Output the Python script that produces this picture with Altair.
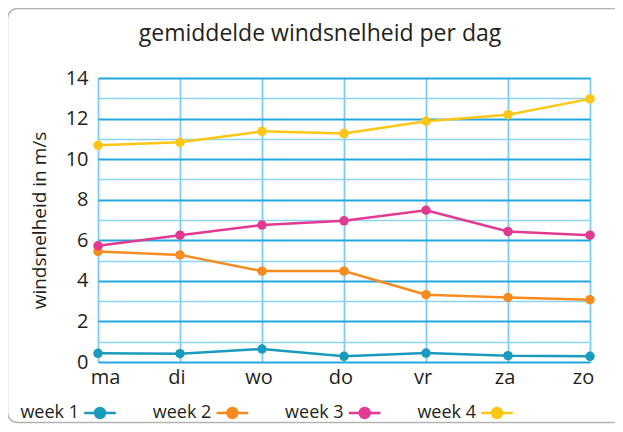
import altair as alt
import pandas as pd

days = ["ma", "di", "wo", "do", "vr", "za", "zo"]
weeks = ["week 1", "week 2", "week 3", "week 4"]
week1 = [0.43, 0.41, 0.64, 0.28, 0.44, 0.31, 0.28]
week2 = [5.45, 5.28, 4.48, 4.48, 3.32, 3.18, 3.07]
week3 = [5.73, 6.25, 6.75, 6.96, 7.48, 6.43, 6.25]
week4 = [10.68, 10.83, 11.37, 11.26, 11.87, 12.19, 12.97]
colors = ["#1a9bbd", "#f68b1f", "#e23a92", "#fec614"]
y_ticks = list(range(0, 15))
title_text = ["gemiddelde windsnelheid per dag"]

rows = []
for w, vals in zip(weeks, [week1, week2, week3, week4]):
    for d, v in zip(days, vals):
        rows.append({"week": w, "dag": d, "v": v})
df = pd.DataFrame(rows)
legend_df = pd.DataFrame({"week": weeks})

FONT = "Open Sans"
TXT = "#231f20"
DARK = "#22a7df"
LIGHT = "#8dd3f1"

color_scale = alt.Scale(domain=weeks, range=colors)

label_offset = {
    "condition": [
        {"test": "datum.value == 'ma'", "value": 7},
        {"test": "datum.value == 'zo'", "value": -7},
    ],
    "value": -3.5,
}

lines = alt.Chart(df).mark_line(
    strokeWidth=2.5,
    point=alt.OverlayMarkDef(filled=True, size=90, opacity=1),
).encode(
    x=alt.X(
        "dag:N", sort=days, scale=alt.Scale(type="point", padding=0),
        axis=alt.Axis(
            title=None, labelAngle=0, labelFontSize=20, labelFont=FONT,
            labelColor=TXT, labelPadding=5, ticks=False, domain=False,
            grid=True, gridColor="#7ecdee", gridWidth=1.8,
            labelOffset=label_offset,
        ),
    ),
    y=alt.Y(
        "v:Q", scale=alt.Scale(domain=[0, 14], nice=False),
        axis=alt.Axis(
            values=y_ticks,
            labelExpr="datum.value % 2 == 0 ? datum.label : ''",
            labelFontSize=20, labelFont=FONT, labelColor=TXT, labelPadding=10,
            labelOverlap=False, ticks=False, domain=False,
            gridColor=alt.condition("datum.value % 2 == 0", alt.value(DARK), alt.value(LIGHT)),
            gridWidth=alt.condition("datum.value % 2 == 0", alt.value(2), alt.value(1.5)),
            title="windsnelheid in m/s", titleFontSize=19, titleFont=FONT,
            titleColor=TXT, titleFontWeight="normal", titlePadding=16,
        ),
    ),
    color=alt.Color("week:N", scale=color_scale, legend=None),
)

leg_x = alt.X("week:N", sort=weeks,
              scale=alt.Scale(type="point", domain=weeks, range=[2, 399], padding=0),
              axis=None)

leg_text = alt.Chart(legend_df).mark_text(
    align="right", baseline="middle", dx=-21, fontSize=18, font=FONT, color=TXT
).encode(x=leg_x, y=alt.value(335), text="week:N")

sym_path = ("M-1,0L1,0M-0.315,0A0.315,0.315 0 1,1 0.315,0"
            "A0.315,0.315 0 1,1 -0.315,0Z")
leg_sym = alt.Chart(legend_df).mark_point(
    shape=sym_path, size=1000, filled=True, strokeWidth=2.5, opacity=1
).encode(
    x=leg_x, y=alt.value(335),
    color=alt.Color("week:N", scale=color_scale, legend=None),
    stroke=alt.Stroke("week:N", scale=color_scale, legend=None),
)

title = alt.Chart(pd.DataFrame({"t": title_text})).mark_text(
    align="center", baseline="alphabetic", fontSize=23, font=FONT, color=TXT
).encode(x=alt.value(222), y=alt.value(-37), text="t:N")

border = alt.Chart(pd.DataFrame({"k": [0]})).mark_rect(
    fillOpacity=0, stroke="#b3b3b3", strokeWidth=1.5, cornerRadius=10
).encode(
    x=alt.value(-90.5), x2=alt.value(600),
    y=alt.value(-69.5), y2=alt.value(344.5),
)

chart = alt.layer(border, title, lines, leg_text, leg_sym).resolve_scale(
    x="independent"
).properties(
    width=492, height=284,
    padding={"left": 90, "top": 70, "right": 25, "bottom": 62},
    autosize=alt.AutoSizeParams(type="none"),
).configure_view(stroke=None)

chart.save("out.html", embed_options={"renderer": "svg", "actions": False})
